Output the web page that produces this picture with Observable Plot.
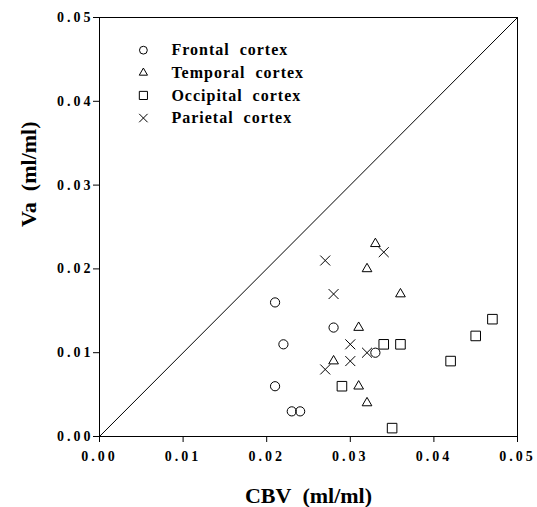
<!DOCTYPE html>
<html>
<head>
<meta charset="utf-8">
<script src="https://cdn.jsdelivr.net/npm/d3@7"></script>
<script src="https://cdn.jsdelivr.net/npm/@observablehq/plot@0.6"></script>
<style>
  html, body { margin: 0; padding: 0; background: #fff; }
  #chart svg { display: block; }
  #chart svg text { font-family: 'Liberation Serif', 'Times New Roman', serif !important; font-weight: 700 !important; }
</style>
</head>
<body>
<div id="chart"></div>
<script>
// ---- data ----
const categories = ["Frontal cortex", "Temporal cortex", "Occipital cortex", "Parietal cortex"];
const symbols = ["circle", "triangle", "square", "times"];

const frontalCBV = [0.021, 0.028, 0.022, 0.033, 0.021, 0.023, 0.024];
const frontalVa  = [0.016, 0.013, 0.011, 0.010, 0.006, 0.003, 0.003];

const temporalCBV = [0.033, 0.032, 0.036, 0.031, 0.028, 0.031, 0.032];
const temporalVa  = [0.023, 0.020, 0.017, 0.013, 0.009, 0.006, 0.004];

const occipitalCBV = [0.034, 0.036, 0.029, 0.035, 0.042, 0.045, 0.047];
const occipitalVa  = [0.011, 0.011, 0.006, 0.001, 0.009, 0.012, 0.014];

const parietalCBV = [0.027, 0.034, 0.028, 0.030, 0.032, 0.030, 0.027];
const parietalVa  = [0.021, 0.022, 0.017, 0.011, 0.010, 0.009, 0.008];

const identityLine = [0, 0.05];
const xTicks = [0, 0.01, 0.02, 0.03, 0.04, 0.05];
const yTicks = [0, 0.01, 0.02, 0.03, 0.04, 0.05];
const xLabel = "CBV\u00a0 (ml/ml)";
const yLabel = "Va\u00a0 (ml/ml)";

// ---- build ----
const seriesX = [frontalCBV, temporalCBV, occipitalCBV, parietalCBV];
const seriesY = [frontalVa, temporalVa, occipitalVa, parietalVa];
const symbolR = [4.6, 3.6, 5.4, 4.6];
const font = "'Liberation Serif', 'Times New Roman', serif";

const dotMarks = seriesX.map((xs, i) =>
  Plot.dot(xs.map((x, j) => ({x, y: seriesY[i][j]})), {
    x: "x", y: "y", symbol: symbols[i], r: symbolR[i],
    stroke: "#000", strokeWidth: 1, fill: "none"
  })
);

// legend (placed inside the frame, upper-left)
const legend = categories.map((name, i) => ({name, symbol: symbols[i], r: symbolR[i], row: i}));
const legX = 0.00525, legTextX = 0.0086, legTop = 0.0461, legStep = 0.0027;
const legendDots = legend.map(d =>
  Plot.dot([d], {x: () => legX, y: () => legTop - d.row * legStep, symbol: d.symbol,
    r: d.r * 0.85, stroke: "#000", strokeWidth: 1, fill: "none"})
);

const chart = Plot.plot({
  width: 537,
  height: 507,
  marginLeft: 99,
  marginRight: 20,
  marginTop: 17,
  marginBottom: 71,
  style: {fontFamily: font, fontWeight: "bold", fontSize: "14px", color: "#000", background: "#fff"},
  x: {domain: [0, 0.05], ticks: xTicks, tickFormat: d3.format(".2f"), tickSize: 6, tickPadding: 9, label: null},
  y: {domain: [0, 0.05], ticks: yTicks, tickFormat: d3.format(".2f"), tickSize: 6, tickPadding: 0, label: null},
  marks: [
    Plot.frame({stroke: "#000", strokeWidth: 1}),
    Plot.line(identityLine.map(v => ({x: v, y: v})), {x: "x", y: "y", stroke: "#000", strokeWidth: 1}),
    ...dotMarks,
    ...legendDots,
    Plot.text(legend, {
      x: () => legTextX, y: d => legTop - d.row * legStep,
      text: d => d.name.replace(" ", "\u00a0 "), textAnchor: "start", lineAnchor: "middle",
      fontSize: 16, fill: "#000"
    }),
    Plot.text([xLabel], {frameAnchor: "bottom", dy: 59, lineAnchor: "middle", fontSize: 22, fill: "#000"}),
    Plot.text([yLabel], {frameAnchor: "left", dx: -71, rotate: -90, lineAnchor: "middle", fontSize: 22, fill: "#000"})
  ]
});

document.getElementById("chart").appendChild(chart);

// styling tweaks: spaced tick labels, spaced legend text
d3.select(chart).selectAll("g[aria-label$='tick label'] text").style("letter-spacing", "3px");
d3.select(chart).selectAll("text").each(function() {
  const t = d3.select(this);
  if (t.attr("font-size") === "16" || (this.parentNode && d3.select(this.parentNode).attr("font-size") === "16")) t.style("letter-spacing", "1px");
});
</script>
</body>
</html>
